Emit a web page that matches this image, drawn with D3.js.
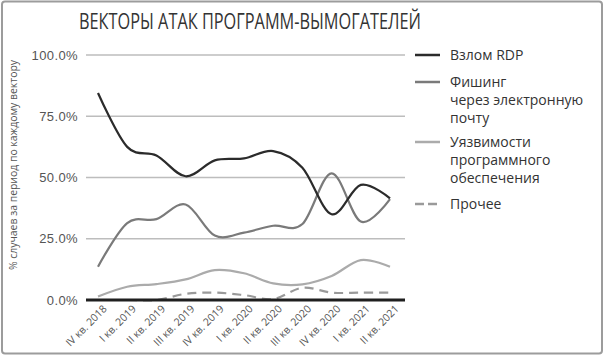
<!DOCTYPE html>
<html><head><meta charset="utf-8">
<script src="https://cdn.jsdelivr.net/npm/d3@7"></script>
<style>
html,body{margin:0;padding:0;background:#fff;}
svg{display:block;}
</style></head>
<body>
<svg id="c" width="606" height="361"></svg>
<script>
const title = "ВЕКТОРЫ АТАК ПРОГРАММ-ВЫМОГАТЕЛЕЙ";
const yAxisTitle = "% случаев за период по каждому вектору";
const categories = ["IV кв. 2018","I кв. 2019","II кв. 2019","III кв. 2019","IV кв. 2019","I кв. 2020","II кв. 2020","III кв. 2020","IV кв. 2020","I кв. 2021","II кв. 2021"];
const yTicks = [0, 25, 50, 75, 100];
const rdp = [84.5, 62.5, 59, 50.5, 57, 57.8, 60.8, 54, 35, 47, 41.5];
const phishing = [13.6, 31.4, 33, 39, 26.3, 27.5, 30.3, 31, 51.7, 32, 41.2];
const vulns = [1.4, 5.4, 6.5, 8.4, 12.2, 10.9, 6.8, 6.4, 9.8, 16.3, 13.6];
const other = [0, 0, 0, 2.5, 3.0, 2.0, 0.4, 5.0, 3.0, 3.0, 3.0];
const seriesNames = [["Взлом RDP"], ["Фишинг","через электронную","почту"], ["Уязвимости","программного","обеспечения"], ["Прочее"]];

const series = [
  {name: seriesNames[0], values: rdp, color: "#2b2b2b", width: 2.2, dash: null},
  {name: seriesNames[1], values: phishing, color: "#7a7a7a", width: 2.2, dash: null},
  {name: seriesNames[2], values: vulns, color: "#ababab", width: 2.2, dash: null},
  {name: seriesNames[3], values: other, color: "#9a9a9a", width: 2.2, dash: "9,6"}
];

const svg = d3.select("#c");
svg.append("rect").attr("x",2).attr("y",1.5).attr("width",600).attr("height",352)
  .attr("rx",3).attr("fill","#fff").attr("stroke","#9c9c9c").attr("stroke-width",2);

const x = d3.scalePoint().domain(categories).range([98, 390]);
const y = d3.scaleLinear().domain([0, 100]).range([300, 55]);
const gridX0 = 86, gridX1 = 405;

svg.append("text").attr("x", 250).attr("y", 29).attr("text-anchor","middle")
  .attr("font-family","Open Sans").attr("font-size", 22).attr("fill","#333")
  .attr("textLength", 342).attr("lengthAdjust","spacingAndGlyphs").text(title);

// gridlines
svg.append("g").selectAll("line").data(yTicks.filter(d => d > 0)).join("line")
  .attr("x1", gridX0).attr("x2", gridX1).attr("y1", d => y(d)).attr("y2", d => y(d))
  .attr("stroke", "#bdbdbd").attr("stroke-width", 1.5);

// y labels
svg.append("g").selectAll("text").data(yTicks).join("text")
  .attr("x", 78).attr("y", d => y(d)).attr("dy","0.35em").attr("text-anchor","end")
  .attr("font-family","Liberation Sans").attr("font-size", 13).attr("fill","#555")
  .attr("letter-spacing", 0.4)
  .text(d => d3.format(".1f")(d) + "%");

// y axis title
svg.append("text").attr("transform", "translate(17,165) rotate(-90)")
  .attr("text-anchor","middle").attr("font-family","Open Sans").attr("font-size", 11)
  .attr("fill","#555").attr("textLength", 210).attr("lengthAdjust","spacingAndGlyphs")
  .text(yAxisTitle);

const line = d3.line().x((d,i) => x(categories[i])).y(d => y(d)).curve(d3.curveCardinal.tension(0));

svg.append("g").selectAll("path").data(series.slice().reverse()).join("path")
  .attr("d", s => line(s.values)).attr("fill","none")
  .attr("stroke", s => s.color).attr("stroke-width", s => s.width)
  .attr("stroke-dasharray", s => s.dash);

// x axis line
svg.append("line").attr("x1", gridX0).attr("x2", gridX1).attr("y1", y(0)).attr("y2", y(0))
  .attr("stroke","#1f1f1f").attr("stroke-width", 3);

// x labels
svg.append("g").selectAll("text").data(categories).join("text")
  .attr("transform", d => `translate(${x(d)+7},${307}) rotate(-45)`)
  .attr("text-anchor","end").attr("dy","0.35em")
  .attr("font-family","Open Sans").attr("font-size", 10.5).attr("fill","#555")
  .text(d => d);

// legend
const lg = svg.append("g");
const legendY = [55, 82, 142, 204];
series.forEach((s, i) => {
  lg.append("line").attr("x1", 415).attr("x2", 440).attr("y1", legendY[i]).attr("y2", legendY[i])
    .attr("stroke", s.color).attr("stroke-width", 2.5).attr("stroke-dasharray", s.dash ? "9,4" : null);
  s.name.forEach((t, j) => {
    lg.append("text").attr("x", 450).attr("y", legendY[i] + j*18).attr("dy","0.35em")
      .attr("font-family","Open Sans").attr("font-size", 14).attr("fill","#333").text(t);
  });
});
</script>
</body></html>
